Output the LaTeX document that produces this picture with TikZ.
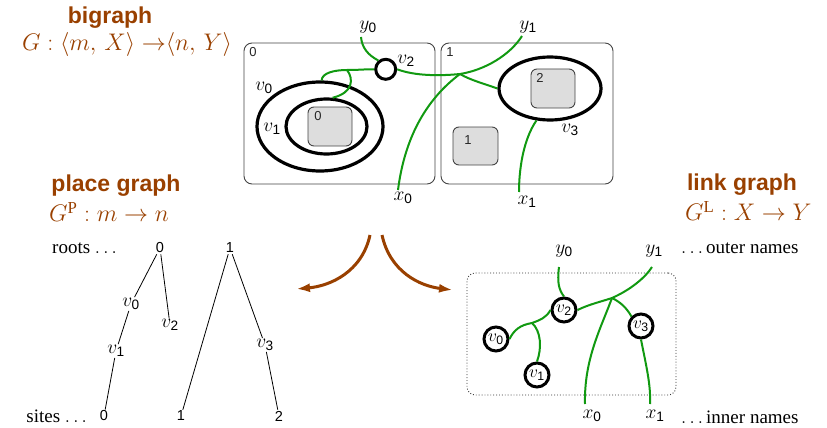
\RequirePackage{fix-cm}
\documentclass[tikz,border=0pt]{standalone}
\usepackage{fontspec}
\setmainfont{Liberation Serif}
\setsansfont{Liberation Sans}
\usetikzlibrary{shapes.geometric,arrows.meta}
\definecolor{bbrown}{HTML}{994000}
\definecolor{lgreen}{HTML}{119911}
\definecolor{sitegray}{HTML}{DDDDDD}
\definecolor{boxgray}{HTML}{444444}
\newcommand{\sz}[1]{\mathsf{#1}}
\tikzset{
  lbl/.style={font=\fontsize{19.5}{22}\selectfont, inner sep=1pt},
  sflbl/.style={font=\sffamily\fontsize{14.5}{16}\selectfont, inner sep=1pt},
  smlbl/.style={font=\sffamily\fontsize{13}{15}\selectfont, inner sep=0pt, text=black!85},
  txt/.style={font=\fontsize{19}{22}\selectfont, inner sep=0pt},
  title/.style={font=\sffamily\bfseries\fontsize{23}{26}\selectfont, text=bbrown, inner sep=0pt},
  ttlmath/.style={font=\fontsize{24}{27}\selectfont, text=bbrown, inner sep=0pt},
  rootbox/.style={draw=boxgray, line width=0.9pt, rounded corners=8pt, rectangle, inner sep=0pt},
  sitebox/.style={draw=boxgray, fill=sitegray, line width=0.9pt, rounded corners=6pt, rectangle, inner sep=0pt},
  vell/.style={draw=black, line width=3.2pt, ellipse, inner sep=0pt},
  vcirc/.style={draw=black, fill=white, line width=3pt, circle, inner sep=0pt},
  lcirc/.style={vcirc, minimum size=24pt, font=\fontsize{17.5}{20}\selectfont},
  link/.style={draw=lgreen, line width=2pt},
  tedge/.style={draw=black, line width=0.8pt},
  bigarrow/.style={draw=bbrown, line width=3pt, -{Latex[length=14pt,width=9pt]}},
  dotbox/.style={draw=black!80, dotted, line width=0.9pt, rounded corners=8pt, rectangle, inner sep=0pt},
}
\begin{document}
\begin{tikzpicture}[x=1pt,y=-1pt]
\useasboundingbox (0,0) rectangle (827,428);

% ---------- titles ----------
\node[title] (tbig) at (110,18) {bigraph};
\node[ttlmath, anchor=west] (tbigm) at (22,45) {$G:\langle m,\,X\rangle\;{\to}\langle n,\,Y\rangle$};
\node[title] (tplace) at (116,186) {place graph};
\node[ttlmath, anchor=west] (tplacem) at (49,212) {$G^{\mathrm{P}}: m\to n$};
\node[title] (tlink) at (742,185) {link graph};
\node[ttlmath, anchor=west] (tlinkm) at (685,211) {$G^{\mathrm{L}}: X\to Y$};

% ---------- bigraph ----------
\node[rootbox, minimum width=191pt, minimum height=141pt] (r0) at (339.5,113.5) {};
\node[rootbox, minimum width=172pt, minimum height=141pt] (r1) at (527,113.5) {};
\node[smlbl] (r0l) at (253,52) {0};
\node[smlbl] (r1l) at (450,52) {1};

\node[sitebox, minimum width=44pt, minimum height=39pt] (s0) at (330,126.5) {};
\node[smlbl] (s0l) at (318,116) {0};
\node[sitebox, minimum width=44pt, minimum height=39pt] (s2) at (553,88.5) {};
\node[smlbl] (s2l) at (540,78) {2};
\node[sitebox, minimum width=45pt, minimum height=38pt] (s1) at (475.5,146) {};
\node[smlbl] (s1l) at (468,140) {1};

\node[vell, minimum width=126pt, minimum height=89pt] (e0) at (320,126.5) {};
\node[vell, minimum width=81pt, minimum height=55pt] (e1) at (326.5,126.5) {};
\node[vell, minimum width=102pt, minimum height=63pt] (e3) at (550,88.5) {};
\node[vcirc, minimum size=20pt] (c2) at (385.7,69.3) {};

\node[lbl] (e0l) at (264,88) {$v_{\sz0}$};
\node[lbl] (e1l) at (272,129) {$v_{\sz1}$};
\node[lbl] (c2l) at (406,61) {$v_{\sz2}$};
\node[lbl] (e3l) at (570,130) {$v_{\sz3}$};

\node[lbl] (by0) at (368,27) {$y_{\sz0}$};
\node[lbl] (by1) at (528,27) {$y_{\sz1}$};
\node[lbl] (bx0) at (403,198) {$x_{\sz0}$};
\node[lbl] (bx1) at (527,202) {$x_{\sz1}$};

\coordinate (bJ1) at (347,70);
\coordinate (bJ2) at (460,74);
\coordinate (by0e) at (361,37);
\coordinate (by1e) at (522,36);
\coordinate (bx0e) at (398,190);
\coordinate (bx1e) at (519,192);

\draw[link] (e0.88) .. controls (322,73) and (334,70) .. (bJ1)
   .. controls (360,70) and (368,69) .. (c2.west);
\draw[link] (bJ1) .. controls (354,79) and (353,93) .. (e1.78);
\draw[link] (by0e) .. controls (362,48) and (368,55) .. (c2.130);
\draw[link] (c2.east) .. controls (415,76) and (440,76) .. (bJ2)
   .. controls (485,70) and (510,55) .. (by1e);
\draw[link] (bJ2) .. controls (470,80) and (485,84) .. (e3.west);
\draw[link] (bx0e) .. controls (405,135) and (428,98) .. (bJ2);
\draw[link] (e3.-113) .. controls (523,140) and (519,170) .. (bx1e);

% ---------- arrows ----------
\coordinate (aL0) at (370,235);
\coordinate (aL1) at (296,289);
\coordinate (aR0) at (382,235);
\coordinate (aR1) at (453,290);
\draw[bigarrow] (aL0) .. controls (362,272) and (330,286) .. (aL1);
\draw[bigarrow] (aR0) .. controls (390,272) and (420,286) .. (aR1);

% ---------- place graph ----------
\node[txt, anchor=east] (roots) at (117,248) {roots $\ldots$};
\node[txt, anchor=east] (sites) at (87,416) {sites $\ldots$};
\node[sflbl] (pr0) at (160,248) {0};
\node[sflbl] (pr1) at (230,248) {1};
\node[lbl] (pv0) at (131,304) {$v_{\sz0}$};
\node[lbl] (pv2) at (170,325) {$v_{\sz2}$};
\node[lbl] (pv1) at (116,351) {$v_{\sz1}$};
\node[lbl] (pv3) at (265,345) {$v_{\sz3}$};
\node[sflbl] (ps0) at (104,416) {0};
\node[sflbl] (ps1) at (181,416) {1};
\node[sflbl] (ps2) at (279,416) {2};
\draw[tedge] (pr0) -- (pv0);
\draw[tedge] (pr0) -- (pv2);
\draw[tedge] (pv0) -- (pv1);
\draw[tedge] (pv1) -- (ps0);
\draw[tedge] (pr1) -- (ps1);
\draw[tedge] (pr1) -- (pv3);
\draw[tedge] (pv3) -- (ps2);

% ---------- link graph ----------
\node[dotbox, minimum width=209pt, minimum height=122pt] (lbox) at (571.5,334) {};
\node[txt, anchor=west] (outer) at (681,248) {$\ldots$\,outer names};
\node[txt, anchor=west] (inner) at (681,417) {$\ldots$\,inner names};
\node[lbl] (ly0) at (564,251) {$y_{\sz0}$};
\node[lbl] (ly1) at (654,251) {$y_{\sz1}$};
\node[lbl] (lx0) at (592,416) {$x_{\sz0}$};
\node[lbl] (lx1) at (655,416) {$x_{\sz1}$};

\node[lcirc] (lv2) at (564,310) {$v_{\sz2}$};
\node[lcirc] (lv0) at (496,339) {$v_{\sz0}$};
\node[lcirc] (lv1) at (537,375) {$v_{\sz1}$};
\node[lcirc] (lv3) at (641,326) {$v_{\sz3}$};

\coordinate (lJ3) at (532,323);
\coordinate (lJ4) at (612,298);
\coordinate (ly0e) at (559,267);
\coordinate (ly1e) at (652,267);
\coordinate (lx0e) at (585,404);
\coordinate (lx1e) at (650,404);

\draw[link] (ly0e) .. controls (557,283) and (559,290) .. (lv2.north);
\draw[link] (lv0.east) .. controls (514,330) and (520,325) .. (lJ3)
   .. controls (540,320) and (546,318) .. (lv2.west);
\draw[link] (lJ3) .. controls (541,331) and (542,348) .. (lv1.north);
\draw[link] (lv2.east) .. controls (590,304) and (600,302) .. (lJ4)
   .. controls (630,290) and (645,278) .. (ly1e);
\draw[link] (lJ4) .. controls (620,302) and (626,307) .. (lv3.north west);
\draw[link] (lJ4) .. controls (600,330) and (584,360) .. (lx0e);
\draw[link] (lv3.south) .. controls (646,365) and (651,385) .. (lx1e);
\end{tikzpicture}
\end{document}
